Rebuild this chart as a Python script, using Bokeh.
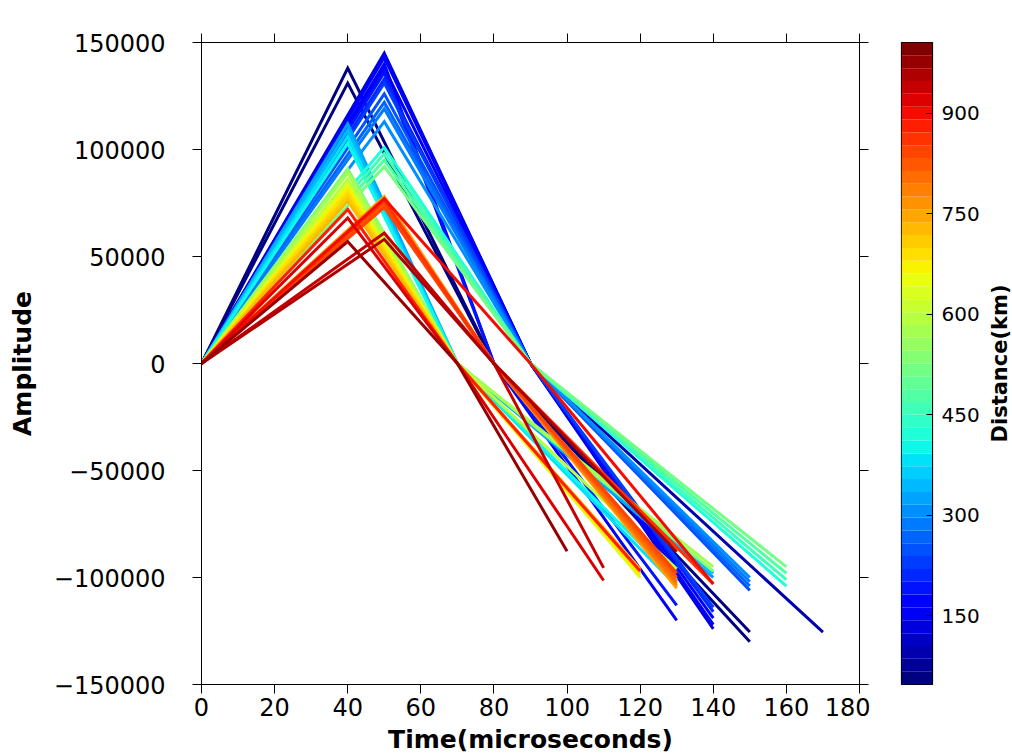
import numpy as np
from bokeh.plotting import figure
from bokeh.layouts import row
from bokeh.models import Range1d, LinearAxis, FixedTicker, ColumnDataSource, Label
from bokeh.embed import file_html
from bokeh.resources import INLINE

# ---------------- data ----------------
distance = [47, 62, 95, 140, 152, 165, 178, 190, 205, 220, 240, 260, 285, 305,
            330, 350, 375, 400, 430, 455, 480, 510, 540, 570, 600, 640, 665, 690,
            710, 730, 750, 770, 790, 810, 830, 850, 870, 890, 905, 920, 945, 965, 985]
peak_time = [40, 40, 50, 50, 50, 50, 50, 50, 50, 50, 50, 50, 50, 50,
             40, 40, 40, 40, 50, 50, 50, 50, 40, 40, 40, 40, 40, 40,
             40, 40, 50, 50, 50, 50, 50, 50, 50, 40, 50, 40, 50, 50, 40]
peak_amp = [138000, 131000, 144000, 145000, 143000, 140000, 138000, 136000, 133000, 131000,
            126000, 122000, 119000, 113000, 112000, 109000, 106000, 103000, 101000, 98000,
            95000, 92000, 91000, 89000, 86000, 84000, 82000, 80000, 78000, 76000,
            78000, 77000, 76000, 75000, 74000, 73000, 76000, 72000, 77000, 68000,
            61000, 58000, 57000]
zero_time = [80, 80, 90, 90, 90, 80, 90, 80, 90, 90, 90, 90, 90, 90,
             70, 70, 70, 70, 90, 90, 90, 90, 70, 70, 70, 70, 70, 70,
             70, 70, 80, 80, 80, 80, 80, 80, 80, 70, 90, 70, 80, 80, 70]
end_time = [150, 150, 170, 140, 140, 130, 140, 130, 140, 140, 150, 150, 150, 150,
            140, 140, 130, 130, 160, 160, 160, 160, 140, 140, 130, 120, 120, 120,
            120, 120, 130, 130, 130, 130, 130, 130, 140, 120, 140, 110, 110, 130, 100]
end_amp = [-130000, -125500, -125500, -124000, -122000, -120000, -119000, -113000, -116000, -114000,
           -106000, -104000, -102000, -100000, -100000, -98000, -104000, -101000, -104000, -101000,
           -98000, -95000, -97000, -95000, -96000, -100000, -99000, -98000, -97000, -96000,
           -105000, -104000, -103000, -102000, -100000, -98000, -103000, -97000, -103000, -101400,
           -95500, -88000, -87700]

x_ticks = [0, 20, 40, 60, 80, 100, 120, 140, 160, 180]
y_ticks = [-150000, -100000, -50000, 0, 50000, 100000, 150000]
y_tick_labels = ["\u2212150000", "\u2212100000", "\u221250000", "0", "50000", "100000", "150000"]
cb_ticks = [150, 300, 450, 600, 750, 900]
dist_min, dist_max = 47, 1006
n_bands = 50

title_text = "allSta"
x_label = "Time(microseconds)"
y_label = "Amplitude"
cb_label = "Distance(km)"


# ---------------- colour map (matplotlib "jet") ----------------
def jet(f):
    r = np.interp(f, [0, 0.35, 0.66, 0.89, 1], [0, 0, 1, 1, 0.5])
    g = np.interp(f, [0, 0.125, 0.375, 0.64, 0.91, 1], [0, 0, 1, 1, 0, 0])
    b = np.interp(f, [0, 0.11, 0.34, 0.65, 1], [0.5, 1, 1, 0, 0])
    return "#%02x%02x%02x" % (int(round(r * 255)), int(round(g * 255)), int(round(b * 255)))


palette = [jet(i / (n_bands - 1)) for i in range(n_bands)]


def color_for(d):
    idx = int((d - dist_min) / (dist_max - dist_min) * n_bands)
    return palette[max(0, min(n_bands - 1, idx))]


FONT = "DejaVu Sans"

# ---------------- main plot ----------------
p = figure(width=870, height=756,
           x_range=Range1d(0, 180), y_range=Range1d(-150000, 150000),
           output_backend="svg", toolbar_location=None,
           min_border_left=201, min_border_right=11,
           min_border_top=42, min_border_bottom=72)
p.grid.visible = False
p.outline_line_color = "black"
p.outline_line_width = 1
p.background_fill_color = "white"
p.border_fill_color = "white"

xs = [[0, tp, tz, te] for tp, tz, te in zip(peak_time, zero_time, end_time)]
ys = [[0, ap, 0, ae] for ap, ae in zip(peak_amp, end_amp)]
src = ColumnDataSource(dict(xs=xs, ys=ys, color=[color_for(d) for d in distance]))
p.multi_line("xs", "ys", source=src, line_color="color", line_width=3, line_join="miter")

for ax in (p.xaxis[0], p.yaxis[0]):
    ax.major_tick_out = 9
    ax.major_tick_in = 0
    ax.minor_tick_line_color = None
    ax.axis_line_color = "black"
    ax.major_tick_line_color = "black"
    ax.major_label_text_font = FONT
    ax.major_label_text_font_size = "24px"
    ax.major_label_text_color = "black"
    ax.axis_label_text_font = FONT
    ax.axis_label_text_font_style = "bold"
    ax.axis_label_text_font_size = "25px"
    ax.axis_label_text_color = "black"

p.xaxis.ticker = FixedTicker(ticks=x_ticks)
p.xaxis.axis_label = x_label
p.xaxis.major_label_standoff = 4
p.xaxis.axis_label_standoff = 6

p.yaxis.ticker = FixedTicker(ticks=y_ticks)
p.yaxis.major_label_overrides = {t: s for t, s in zip(y_ticks, y_tick_labels)}
p.yaxis.axis_label = y_label
p.yaxis.major_label_standoff = 27
p.yaxis.axis_label_standoff = 14

top_ax = LinearAxis(ticker=FixedTicker(ticks=x_ticks), major_tick_out=9, major_tick_in=0,
                    minor_tick_line_color=None, major_label_text_font_size="1px",
                    major_label_text_color=None,
                    major_label_standoff=0, axis_line_color="black")
right_ax = LinearAxis(ticker=FixedTicker(ticks=y_ticks), major_tick_out=9, major_tick_in=0,
                      minor_tick_line_color=None, major_label_text_font_size="1px",
                      major_label_text_color=None,
                      major_label_standoff=0, axis_line_color="black")
p.add_layout(top_ax, "above")
p.add_layout(right_ax, "right")

p.add_layout(Label(x=90, y=150000, text=title_text, text_align="center",
                   text_baseline="bottom", y_offset=9, text_font=FONT,
                   text_font_size="25px", text_color="black"))

# ---------------- colour bar ----------------
cb = figure(width=112, height=756,
            x_range=Range1d(0, 1), y_range=Range1d(dist_min, dist_max),
            output_backend="svg", toolbar_location=None,
            min_border_left=31, min_border_right=50,
            min_border_top=42, min_border_bottom=72)
cb.grid.visible = False
cb.xaxis.visible = False
cb.yaxis.visible = False
cb.outline_line_color = "black"
cb.outline_line_width = 1.2
cb.border_fill_color = "white"
edges = np.linspace(dist_min, dist_max, n_bands + 1)
cb.quad(left=0, right=1, bottom=edges[:-1], top=edges[1:], fill_color=palette, line_color=None)

cb_ax = LinearAxis(ticker=FixedTicker(ticks=cb_ticks), major_tick_out=0, major_tick_in=6,
                   minor_tick_line_color=None, axis_line_color="black",
                   major_tick_line_color="black",
                   major_label_text_font=FONT, major_label_text_font_size="20px",
                   major_label_text_color="black", major_label_standoff=9)
cb.add_layout(cb_ax, "right")

# ---------------- colour-bar title (left axis label of a slim strip) ----------------
lab = figure(width=30, height=756,
             x_range=Range1d(0, 1), y_range=Range1d(dist_min, dist_max),
             output_backend="svg", toolbar_location=None,
             min_border_left=29, min_border_right=0,
             min_border_top=42, min_border_bottom=72)
lab.grid.visible = False
lab.xaxis.visible = False
lab.outline_line_color = None
lab.border_fill_color = "white"
lab.background_fill_color = "white"
lab.yaxis.ticker = FixedTicker(ticks=[])
lab.yaxis.major_tick_out = 0
lab.yaxis.major_tick_in = 0
lab.yaxis.minor_tick_line_color = None
lab.yaxis.major_tick_line_color = None
lab.yaxis.axis_line_color = None
lab.yaxis.major_label_text_font_size = "1px"
lab.yaxis.major_label_standoff = 0
lab.yaxis.axis_label = cb_label
lab.yaxis.axis_label_standoff = 0
lab.yaxis.axis_label_text_font = FONT
lab.yaxis.axis_label_text_font_style = "bold"
lab.yaxis.axis_label_text_font_size = "21px"
lab.yaxis.axis_label_text_color = "black"

layout = row(p, cb, lab)
open("out.html", "w").write(file_html(layout, INLINE))
